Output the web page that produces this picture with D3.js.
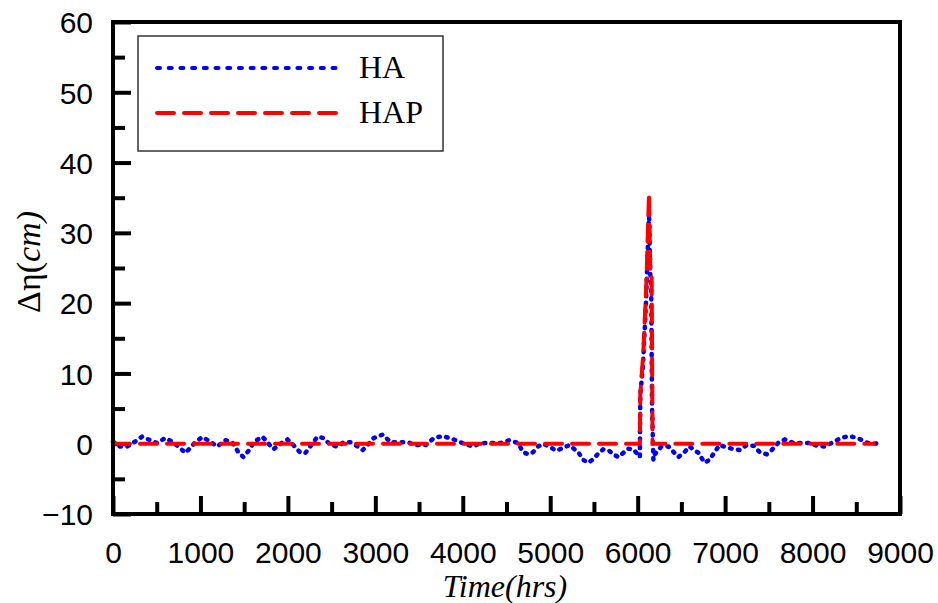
<!DOCTYPE html>
<html>
<head>
<meta charset="utf-8">
<script src="https://cdn.jsdelivr.net/npm/d3@7"></script>
<style>
    body { margin: 0; background: #fff; }
    svg { display: block; }
</style>
</head>
<body>
<svg id="chart" width="938" height="603"></svg>
<script>
// HA residual (blue dotted) - hours and cm
var haHours = [0, 80, 160, 218, 332, 424, 505, 596, 676, 768, 826, 860, 940, 1020, 1112, 1192, 1284, 1364, 1433, 1490,
    1571, 1605, 1708, 1766, 1834, 1938, 1995, 2064, 2144, 2201, 2236, 2339, 2408, 2488, 2568, 2637, 2717, 2798, 2855,
    2912, 2981, 3084, 3176, 3290, 3371, 3462, 3577, 3669, 3772, 3898, 4013, 4116, 4185, 4265, 4345, 4437, 4529, 4632,
    4689, 4747, 4804, 4861, 4919, 4987, 5068, 5148, 5217, 5320, 5377, 5435, 5492, 5549, 5606, 5664, 5721, 5778, 5836,
    5893, 5950, 6008, 6025, 6030, 6060, 6095, 6130, 6145, 6155, 6165, 6180, 6191, 6271, 6352, 6420, 6466, 6535, 6592,
    6650, 6695, 6764, 6822, 6879, 6936, 7074, 7166, 7246, 7326, 7395, 7475, 7533, 7613, 7682, 7785, 7888, 7968, 8049,
    8140, 8232, 8324, 8415, 8518, 8633, 8760];
var haValues = [0.3, -0.4, -0.4, 0, 1.0, 0.5, 0.1, 0.8, 0.3, -0.6, -1.3, -0.9, 0.2, 0.95, 0.3, -0.4, 0.5, 0.2, -1.2, -1.9,
    -0.7, 0.2, 1.0, 0.2, -0.8, 0.2, 0.6, -0.2, -1.3, -1.3, -0.7, 1.0, 0.8, -0.2, -0.4, 0.2, 0.2, -0.4, -0.9,
    -0.2, 0.8, 1.3, 0.2, 0.2, 0.2, -0.2, -0.2, 0.8, 1.1, 0.6, 0, -0.4, 0, 0.1, 0.1, 0.1, 0.5, 0.1,
    -1.2, -1.5, -1.2, -0.4, 0, -0.4, -1.0, -0.6, -0.2, -1.2, -2.3, -2.7, -2.2, -1.4, -0.8, -0.9, -1.5, -1.9, -1.3,
    -0.7, -0.8, -1.6, -1.9, 7, 11, 20, 32.8, 24, 22, 5, -2.3, -1.6, -0.4, -0.4, -1.3, -1.9, -1.2, -0.4,
    -0.9, -1.3, -2.7, -2.3, -1.2, -0.2, -0.7, -0.9, -0.2, -0.3, -1.2, -1.5, -0.9, 0.2, 0.6, 0.1, 0.1, 0.1, -0.3,
    -0.4, 0.2, 0.8, 1.1, 0.8, 0.1, 0.0];

// HAP residual (red dashed)
var hapHours = [0, 6025, 6030, 6065, 6100, 6130, 6145, 6160, 6170, 8700];
var hapValues = [0, 0, 7, 13, 23, 35.7, 24, 24, 0, 0];

var xMajor = [0, 1000, 2000, 3000, 4000, 5000, 6000, 7000, 8000, 9000];
var xMinor = [500, 1500, 2500, 3500, 4500, 5500, 6500, 7500, 8500];
var yMajor = [-10, 0, 10, 20, 30, 40, 50, 60];
var yMinor = [-5, 5, 15, 25, 35, 45, 55];

var seriesNames = ["HA", "HAP"];

var svg = d3.select("#chart");
var plotLeft = 113, plotRight = 900, plotTop = 22, plotBottom = 514;

var x = d3.scaleLinear().domain([0, 9000]).range([plotLeft, plotRight]);
var y = d3.scaleLinear().domain([-10, 60]).range([plotBottom, plotTop]);

// axes (ticks inside)
var gx = svg.append("g").attr("transform", "translate(0," + plotBottom + ")")
    .call(d3.axisBottom(x).tickValues(xMajor).tickSize(-18).tickPadding(28).tickFormat(d3.format("d")));
svg.append("g").attr("transform", "translate(0," + plotBottom + ")")
    .call(d3.axisBottom(x).tickValues(xMinor).tickSize(-12).tickFormat(""));
var gy = svg.append("g").attr("transform", "translate(" + plotLeft + ",0)")
    .call(d3.axisLeft(y).tickValues(yMajor).tickSize(-18).tickPadding(20).tickFormat(d3.format("d")));
svg.append("g").attr("transform", "translate(" + plotLeft + ",0)")
    .call(d3.axisLeft(y).tickValues(yMinor).tickSize(-12).tickFormat(""));

svg.selectAll(".domain").remove();
svg.selectAll(".tick line").attr("stroke", "#000").attr("stroke-width", 4);
svg.selectAll(".tick text").attr("font-family", "Liberation Sans, Arial, sans-serif")
    .attr("font-size", 30).attr("fill", "#000");
gy.selectAll(".tick text").attr("dy", "0.36em");

var lineHA = d3.line().x(function (d, i) { return x(haHours[i]); }).y(function (d) { return y(d); });
var lineHAP = d3.line().x(function (d, i) { return x(hapHours[i]); }).y(function (d) { return y(d); });

svg.append("path").datum(haValues)
    .attr("d", lineHA)
    .attr("fill", "none")
    .attr("stroke", "#0000ff")
    .attr("stroke-width", 4.5)
    .attr("stroke-linecap", "round")
    .attr("stroke-dasharray", "1.5,6.5");

svg.append("path").datum(hapValues)
    .attr("d", lineHAP)
    .attr("fill", "none")
    .attr("stroke", "#ff0000")
    .attr("stroke-width", 4)
    .attr("stroke-linecap", "round")
    .attr("stroke-dasharray", "17,10");

// frame
svg.append("rect")
    .attr("x", plotLeft).attr("y", plotTop)
    .attr("width", plotRight - plotLeft).attr("height", plotBottom - plotTop)
    .attr("fill", "none").attr("stroke", "#000").attr("stroke-width", 4);

// legend
var legend = svg.append("g");
legend.append("rect").attr("x", 138).attr("y", 36).attr("width", 305).attr("height", 115)
    .attr("fill", "#fff").attr("stroke", "#333").attr("stroke-width", 1.5);
var legStyles = [
    { color: "#0000ff", dash: "3,8.7", y: 68 },
    { color: "#ff0000", dash: "17,10", y: 113 }
];
seriesNames.forEach(function (name, i) {
    var s = legStyles[i];
    legend.append("line").attr("x1", 157).attr("x2", 339).attr("y1", s.y).attr("y2", s.y)
        .attr("stroke", s.color).attr("stroke-width", 4).attr("stroke-linecap", "round")
        .attr("stroke-dasharray", s.dash);
    legend.append("text").attr("x", 359).attr("y", s.y + 10)
        .attr("font-family", "Liberation Serif, Times New Roman, serif").attr("font-size", 32)
        .text(name);
});

// axis titles
svg.append("text").attr("x", 505).attr("y", 597).attr("text-anchor", "middle")
    .attr("font-family", "Liberation Serif, Times New Roman, serif").attr("font-size", 32)
    .attr("font-style", "italic").text("Time(hrs)");

var yt = svg.append("text").attr("transform", "translate(40,262) rotate(-90)")
    .attr("text-anchor", "middle")
    .attr("font-family", "Liberation Serif, Times New Roman, serif").attr("font-size", 34);
yt.append("tspan").text("Δη(");
yt.append("tspan").attr("font-style", "italic").text("cm)");
</script>
</body>
</html>
